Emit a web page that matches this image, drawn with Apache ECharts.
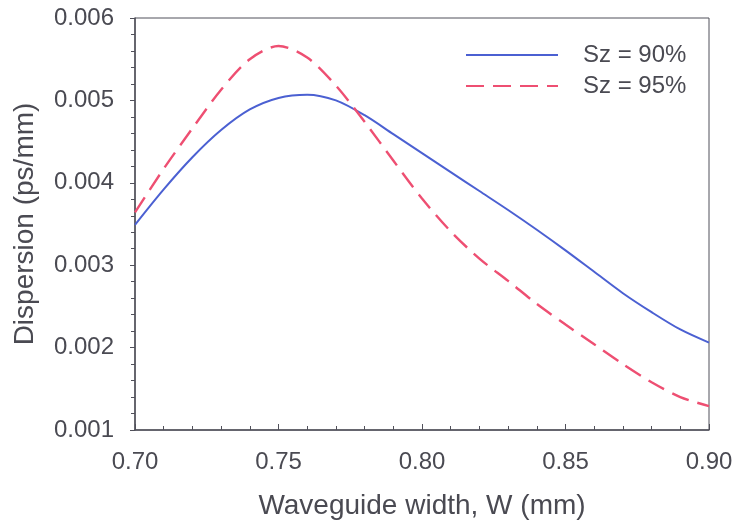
<!DOCTYPE html>
<html>
<head>
<meta charset="utf-8">
<script src="https://cdn.jsdelivr.net/npm/echarts@6/dist/echarts.min.js"></script>
<style>
  html, body { margin: 0; padding: 0; background: #fff; }
  #chart { width: 736px; height: 526px; }
</style>
</head>
<body>
<div id="chart"></div>
<script>
// waveguide width (mm)
var widths = [0.70, 0.71, 0.72, 0.73, 0.74, 0.75, 0.76, 0.77, 0.78, 0.79, 0.80,
  0.81, 0.82, 0.83, 0.84, 0.85, 0.86, 0.87, 0.88, 0.89, 0.90];
// dispersion (ps/mm), Sz = 90%
var sz90 = [0.00349, 0.00392, 0.00431, 0.00464, 0.00489, 0.00503, 0.00507, 0.00500, 0.00482, 0.00459, 0.00436,
  0.00413, 0.00390, 0.00367, 0.00343, 0.00318, 0.00292, 0.00266, 0.00243, 0.00222, 0.00206];
// dispersion (ps/mm), Sz = 95%
var sz95 = [0.00364, 0.00417, 0.00466, 0.00513, 0.00550, 0.00566, 0.00552, 0.00518, 0.00474, 0.00427, 0.00381,
  0.00341, 0.00308, 0.00281, 0.00253, 0.00228, 0.00204, 0.00180, 0.00158, 0.00140, 0.00129];
var seriesNames = ['Sz = 90%', 'Sz = 95%'];

function pairs(xs, ys) {
  return xs.map(function (x, i) { return [x, ys[i]]; });
}

var axisColor = '#50505a';
var textColor = '#4a4a52';
var font = 'Liberation Sans, Arial, sans-serif';

var chart = echarts.init(document.getElementById('chart'));
chart.setOption({
  animation: false,
  backgroundColor: '#fff',
  grid: {
    left: 135, right: 27, top: 18, bottom: 96,
    show: true, borderColor: axisColor, borderWidth: 1
  },
  legend: {
    orient: 'vertical',
    left: 460, top: 38,
    itemWidth: 92, itemHeight: 14, itemGap: 7,
    itemStyle: { opacity: 0 },
    textStyle: { fontFamily: font, fontSize: 24, color: textColor, padding: [0, 0, 0, 20] },
    data: seriesNames
  },
  xAxis: {
    type: 'value',
    min: 0.70, max: 0.90, interval: 0.05,
    name: 'Waveguide width, W (mm)',
    nameLocation: 'middle', nameGap: 62,
    nameTextStyle: { fontFamily: font, fontSize: 28, color: textColor },
    axisLine: { lineStyle: { color: axisColor, width: 1.5 } },
    axisTick: { inside: true, length: 6, lineStyle: { color: axisColor } },
    minorTick: { show: true, splitNumber: 5, length: 4, lineStyle: { color: axisColor } },
    splitLine: { show: false },
    axisLabel: {
      margin: 20, fontFamily: font, fontSize: 24, color: textColor,
      formatter: function (v) { return v.toFixed(2); }
    }
  },
  yAxis: {
    type: 'value',
    min: 0.001, max: 0.006, interval: 0.001,
    name: 'Dispersion (ps/mm)',
    nameLocation: 'middle', nameGap: 96,
    nameTextStyle: { fontFamily: font, fontSize: 28, color: textColor },
    axisLine: { lineStyle: { color: axisColor, width: 1.5 } },
    axisTick: { length: 5, lineStyle: { color: axisColor } },
    minorTick: { show: true, splitNumber: 5, length: 4, lineStyle: { color: axisColor } },
    splitLine: { show: false },
    axisLabel: {
      margin: 21, fontFamily: font, fontSize: 24, color: textColor,
      formatter: function (v) { return v.toFixed(3); }
    }
  },
  series: [
    {
      name: seriesNames[0],
      type: 'line',
      smooth: 0.3,
      symbol: 'none',
      data: pairs(widths, sz90),
      lineStyle: { color: '#4b60d2', width: 2 },
      itemStyle: { color: '#4b60d2' }
    },
    {
      name: seriesNames[1],
      type: 'line',
      smooth: 0.3,
      symbol: 'none',
      data: pairs(widths, sz95),
      lineStyle: { color: '#ee4f72', width: 2.4, type: [18, 9] },
      itemStyle: { color: '#ee4f72' }
    }
  ]
});
</script>
</body>
</html>
